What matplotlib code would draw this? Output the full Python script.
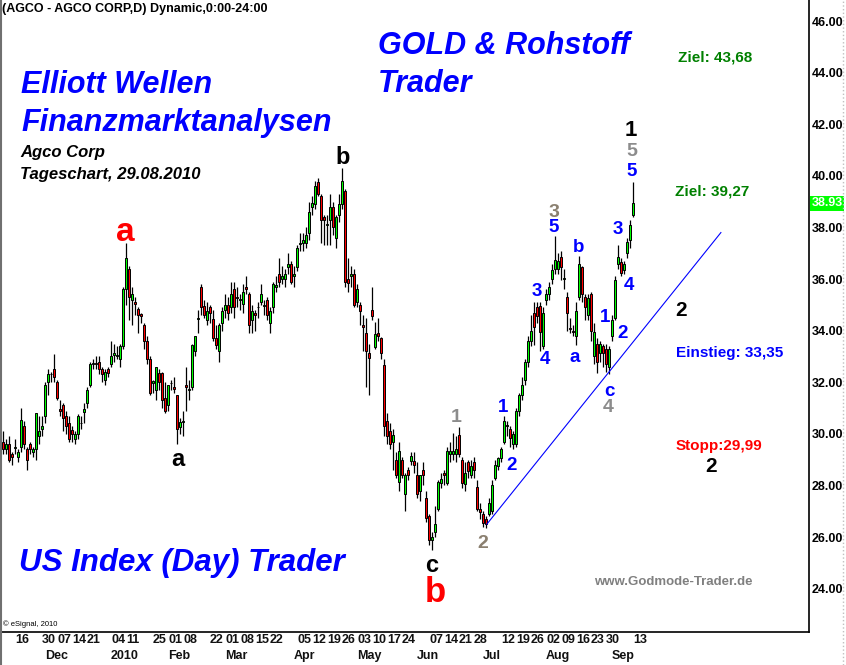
import numpy as np
import pandas as pd
import matplotlib
matplotlib.use('Agg')
import matplotlib.pyplot as plt
import matplotlib.transforms as mtransforms

plt.rcParams['font.family'] = ['Liberation Sans', 'DejaVu Sans']

# AGCO daily bars, 10.11.2009 - 13.09.2010
opens = [29.7, 29.4, 29.6, 29.2, 29.45, 29.1, 29.5, 30.3, 29.4, 29.6,
         29.3, 29.4, 29.9, 30.2, 30.7, 32.0, 32.3, 32.5, 32.0, 30.95,
         31.1, 30.7, 30.4, 30.15, 29.8, 30.0, 30.4, 30.85, 31.2, 31.9,
         32.7, 32.75, 32.8, 32.5, 32.1, 32.5, 32.7, 33.05, 33.0, 32.9,
         33.4, 35.6, 36.4, 35.2, 35.1, 34.85, 34.65, 34.2, 33.6, 32.9,
         31.95, 31.7, 32.35, 32.35, 31.4, 31.1, 31.95, 31.8, 31.5, 30.25,
         30.45, 31.9, 31.7, 31.8, 33.2, 34.45, 35.7, 34.95, 34.4, 34.9,
         34.45, 33.7, 33.2, 34.3, 34.8, 35.0, 34.9, 35.6, 35.3, 35.2,
         35.05, 35.7, 35.4, 34.4, 34.7, 34.9, 35.1, 34.95, 35.2, 34.3,
         34.9, 35.7, 36.2, 36.0, 36.0, 36.45, 36.6, 36.1, 36.45, 37.35,
         37.4, 37.4, 37.8, 38.8, 38.9, 39.75, 39.2, 38.4, 38.1, 38.3,
         38.8, 37.6, 38.5, 38.9, 39.4, 36.0, 36.1, 36.2, 35.1, 35.0,
         34.2, 33.9, 33.15, 34.8, 33.35, 33.9, 33.7, 32.65, 30.5, 30.1,
         29.7, 29.0, 28.15, 29.0, 27.65, 28.6, 28.95, 28.95, 28.4, 27.8,
         28.6, 27.5, 26.8, 25.9, 26.2, 27.1, 28.1, 28.5, 28.1, 29.2,
         29.2, 29.2, 29.95, 29.0, 28.05, 28.9, 28.4, 28.9, 27.95, 27.1,
         26.9, 26.7, 26.9, 27.0, 28.3, 28.75, 29.05, 29.7, 30.35, 30.2,
         29.6, 29.6, 30.9, 31.5, 32.1, 32.8, 33.6, 34.7, 34.9, 34.95,
         33.4, 35.2, 35.4, 36.0, 36.4, 36.4, 36.85, 36.0, 35.3, 34.1,
         34.0, 33.8, 35.3, 36.45, 35.3, 34.6, 35.4, 33.0, 33.5, 33.15,
         33.4, 33.3, 32.6, 33.8, 34.5, 36.6, 36.65, 36.35, 37.0, 37.5,
         38.5]
highs = [30.1, 29.8, 29.9, 29.3, 29.8, 29.4, 31.0, 30.5, 29.5, 29.7,
         29.5, 30.8, 30.7, 30.7, 32.0, 32.5, 32.4, 33.1, 32.1, 31.3,
         31.2, 30.9, 30.7, 30.3, 30.1, 30.75, 30.7, 31.2, 31.8, 32.8,
         32.9, 33.0, 33.0, 32.6, 32.5, 32.6, 33.6, 33.5, 33.4, 33.5,
         35.7, 37.4, 36.5, 35.7, 35.3, 34.9, 34.7, 34.3, 33.8, 33.0,
         32.1, 32.6, 32.5, 32.4, 32.0, 31.9, 32.1, 32.2, 31.5, 30.6,
         30.9, 32.6, 32.1, 33.5, 33.8, 34.8, 35.8, 35.2, 35.1, 35.0,
         34.8, 34.2, 34.3, 34.9, 35.4, 35.3, 35.9, 35.9, 35.7, 35.4,
         35.8, 36.1, 35.5, 35.0, 34.8, 35.1, 35.8, 35.2, 35.3, 34.9,
         35.9, 36.1, 36.8, 36.5, 36.4, 37.0, 36.7, 36.5, 37.3, 37.8,
         37.8, 38.0, 39.0, 39.2, 39.8, 39.9, 39.3, 38.5, 38.5, 39.3,
         39.0, 38.5, 39.3, 40.3, 39.5, 36.8, 36.5, 36.4, 35.8, 35.1,
         34.6, 34.5, 33.5, 35.7, 34.35, 34.5, 33.75, 32.9, 30.8, 30.4,
         30.2, 29.3, 29.7, 29.1, 28.5, 28.7, 29.3, 29.3, 28.9, 28.4,
         28.9, 27.8, 26.9, 26.2, 27.2, 28.2, 28.5, 28.6, 29.5, 29.7,
         30.05, 29.9, 30.25, 29.1, 28.9, 29.0, 29.0, 29.1, 28.2, 27.3,
         27.0, 26.8, 27.5, 28.2, 29.0, 29.1, 29.5, 30.7, 30.5, 30.3,
         30.1, 31.0, 31.6, 32.2, 32.9, 33.8, 34.6, 35.1, 35.1, 35.1,
         34.9, 35.6, 35.9, 36.6, 37.65, 37.0, 37.1, 36.4, 35.5, 34.5,
         34.2, 35.1, 36.9, 36.5, 35.4, 35.4, 35.5, 34.3, 33.7, 33.6,
         33.5, 33.5, 33.4, 34.6, 36.1, 37.3, 36.8, 36.7, 37.6, 38.3,
         39.75]
lows = [29.2, 29.2, 28.9, 28.8, 29.2, 28.9, 29.3, 29.4, 28.6, 29.2,
        29.1, 29.0, 29.6, 29.9, 30.4, 31.5, 32.0, 32.0, 31.3, 30.7,
        30.1, 30.0, 29.7, 29.7, 29.6, 29.8, 30.2, 30.4, 31.0, 31.8,
        32.5, 32.5, 32.3, 32.0, 31.9, 32.2, 32.6, 32.8, 32.9, 32.6,
        33.3, 35.0, 34.4, 34.2, 34.6, 33.9, 34.3, 33.3, 32.7, 31.5,
        31.6, 31.3, 31.7, 31.0, 30.8, 30.9, 31.7, 31.6, 29.6, 30.0,
        29.9, 30.9, 31.3, 31.7, 33.0, 33.9, 34.6, 34.5, 34.2, 34.3,
        33.6, 33.3, 32.8, 34.0, 34.5, 34.4, 34.7, 34.5, 34.9, 34.8,
        34.7, 35.4, 33.9, 33.9, 34.0, 34.5, 35.0, 34.6, 34.4, 33.9,
        34.7, 35.5, 35.7, 35.8, 35.7, 36.2, 35.8, 35.7, 36.3, 37.1,
        37.1, 37.2, 37.5, 38.5, 38.7, 39.2, 37.4, 37.3, 37.3, 37.3,
        37.7, 37.2, 38.2, 38.7, 35.7, 35.5, 35.7, 34.9, 34.9, 34.2,
        33.2, 31.8, 31.5, 34.4, 33.3, 33.6, 32.9, 29.9, 29.6, 29.4,
        28.6, 28.3, 27.8, 28.3, 27.0, 28.2, 28.8, 28.5, 27.5, 27.4,
        28.0, 26.6, 25.7, 25.5, 26.0, 27.0, 27.9, 28.0, 28.0, 28.9,
        29.0, 28.9, 29.1, 27.9, 27.8, 28.3, 28.3, 28.3, 27.0, 26.7,
        26.4, 26.35, 26.8, 26.9, 28.2, 28.6, 28.9, 29.6, 29.9, 29.5,
        29.4, 29.5, 30.7, 31.3, 31.9, 32.6, 33.4, 33.45, 34.3, 33.2,
        33.3, 35.0, 35.2, 35.8, 36.2, 36.2, 35.97, 35.6, 34.0, 33.9,
        33.8, 33.45, 35.2, 35.1, 34.4, 34.4, 33.6, 32.7, 32.35, 32.8,
        32.6, 32.4, 32.3, 33.6, 34.4, 36.4, 36.1, 36.2, 36.8, 37.2,
        38.4]
closes = [29.4, 29.6, 29.0, 29.1, 29.47, 29.3, 30.55, 29.6, 29.0, 29.4,
          29.4, 30.8, 30.1, 30.3, 31.9, 32.3, 32.33, 32.2, 31.4, 30.9,
          30.6, 30.3, 29.8, 30.0, 30.0, 30.7, 30.42, 30.95, 31.7, 32.7,
          32.75, 32.7, 32.5, 32.3, 32.4, 32.35, 33.0, 33.15, 33.05, 33.4,
          35.6, 36.8, 35.3, 35.4, 35.05, 34.6, 34.55, 33.6, 32.9, 31.6,
          32.05, 32.6, 32.0, 31.3, 30.9, 31.9, 31.97, 31.75, 30.2, 30.45,
          30.5, 31.8, 31.72, 33.45, 33.8, 34.5, 34.9, 34.6, 34.75, 34.7,
          33.7, 33.45, 34.2, 34.75, 35.0, 34.7, 35.4, 34.9, 35.25, 35.22,
          35.5, 35.6, 34.2, 34.75, 34.6, 34.92, 35.4, 35.0, 34.6, 34.75,
          35.8, 35.75, 35.9, 36.1, 36.2, 36.6, 35.9, 36.2, 37.2, 37.37,
          37.5, 37.7, 38.6, 38.95, 39.6, 39.3, 38.3, 38.3, 38.12, 38.8,
          38.0, 38.4, 38.9, 39.8, 35.9, 35.85, 36.2, 35.0, 35.6, 34.75,
          34.15, 33.2, 32.95, 34.55, 33.85, 33.8, 33.15, 30.3, 29.9, 29.6,
          29.95, 28.4, 29.35, 28.4, 28.4, 28.4, 29.15, 28.8, 27.65, 28.4,
          28.4, 26.75, 25.9, 26.0, 26.5, 28.15, 28.25, 28.4, 29.35, 29.35,
          29.35, 29.4, 29.2, 28.1, 28.5, 28.55, 28.75, 28.6, 27.1, 26.95,
          26.55, 26.5, 27.3, 28.0, 28.8, 29.05, 29.4, 30.5, 30.3, 29.85,
          30.0, 30.9, 31.5, 31.9, 32.8, 33.6, 34.0, 34.15, 34.55, 33.95,
          34.7, 35.4, 35.7, 36.35, 36.75, 36.7, 36.45, 36.02, 34.7, 34.05,
          33.95, 34.75, 36.6, 35.4, 34.9, 35.25, 34.0, 33.95, 32.8, 33.5,
          33.15, 32.7, 33.3, 34.4, 35.95, 36.85, 36.25, 36.6, 37.45, 38.1,
          38.93]

holidays = ['2009-11-26', '2009-12-25', '2010-01-01', '2010-01-18', '2010-02-15',
            '2010-04-02', '2010-05-31', '2010-07-05', '2010-09-06']
skip_week_labels = ['2009-11-23', '2009-12-28', '2010-03-29']
last_price = 38.93

# trend line (bar number, price)
trend_x = [162.3, 240.3]
trend_y = [26.5, 37.8]

opens = np.array(opens)
highs = np.array(highs)
lows = np.array(lows)
closes = np.array(closes)
n = len(opens)
dates = pd.bdate_range('2009-11-10', periods=n, freq='C', holidays=holidays)
idx = np.arange(1, n + 1)

W, H = 846, 665
fig = plt.figure(figsize=(W / 100, H / 100), dpi=100)
fig.patch.set_facecolor('white')
ax = fig.add_axes([2 / W, 33 / H, 807 / W, 632 / H])

def fx(px):
    return px / W

def fy(py):
    return 1 - py / H

# candles
up = closes >= opens
cols = np.where(up, '#00ff00', '#ff0000')
ax.vlines(idx, lows, highs, color='black', lw=0.9, zorder=2)
bottom = np.minimum(opens, closes)
height = np.maximum(np.abs(closes - opens), 0.03)
ax.bar(idx, height, bottom=bottom, width=0.8, color=cols, edgecolor='black', linewidth=0.7, zorder=3)

ax.plot(trend_x, trend_y, color='blue', lw=0.8, zorder=4)

ax.set_xlim(2 / 3, 809 / 3)
ax.set_ylim(46 - 611 / 25.8, 46 + 21 / 25.8)
ax.yaxis.tick_right()
ax.set_yticks(np.arange(24, 47, 2))
ax.set_yticklabels(['%.2f' % v for v in np.arange(24, 47, 2)], fontsize=9, fontweight='bold')
ax.tick_params(axis='y', length=0, pad=2)
ax.set_xticks([])
for s in ['top', 'left']:
    ax.spines[s].set_visible(False)
ax.spines['right'].set_linewidth(1.2)
ax.spines['bottom'].set_linewidth(1.2)

# price marker
trans_y = mtransforms.blended_transform_factory(ax.transAxes, ax.transData)
ax.text(1.003, last_price, '%.2f' % last_price, transform=trans_y, color='white', fontsize=9,
        fontweight='bold', va='center', ha='left',
        bbox=dict(boxstyle='square,pad=0.12', fc='#00ff00', ec='none'))

# date labels
trans_x = mtransforms.blended_transform_factory(ax.transData, fig.transFigure)
prev_month = None
for i, d in zip(idx, dates):
    if d.weekday() == 0 and d.strftime('%Y-%m-%d') not in skip_week_labels:
        ax.text(i, fy(640), d.strftime('%d'), transform=trans_x, ha='left', va='center',
                fontsize=9, fontweight='bold', color='#111111')
    if prev_month is not None and d.month != prev_month:
        lab = '2010' if d.month == 1 else d.strftime('%b')
        ax.text(i, fy(656), lab, transform=trans_x, ha='left', va='center',
                fontsize=9, fontweight='bold', color='#111111')
    prev_month = d.month

# window border lines
fig.add_artist(plt.Line2D([fx(1), fx(1)], [0, 1], color='#707070', lw=1.5))
fig.add_artist(plt.Line2D([fx(843), fx(843)], [0, 1], color='#c0c0c0', lw=1, ls=':'))

# texts
def t(px, py, s, size, color='black', style='normal', ha='left', weight='bold'):
    fig.text(fx(px), fy(py), s, fontsize=size, color=color, fontstyle=style,
             fontweight=weight, ha=ha, va='center')

t(2, 9, '(AGCO - AGCO CORP,D) Dynamic,0:00-24:00', 9)
t(378, 46, 'GOLD & Rohstoff', 22, 'blue', 'italic')
t(378, 84, 'Trader', 22, 'blue', 'italic')
t(21, 85, 'Elliott Wellen', 22, 'blue', 'italic')
t(21, 123, 'Finanzmarktanalysen', 22, 'blue', 'italic')
t(20, 152, 'Agco Corp', 12, 'black', 'italic')
t(20, 175, 'Tageschart, 29.08.2010', 12, 'black', 'italic')
t(19, 563, 'US Index (Day) Trader', 22.5, 'blue', 'italic')
t(594, 582, 'www.Godmode-Trader.de', 9.5, '#808080')
t(3, 624, '\u00a9 eSignal, 2010', 5.5, 'black', weight='normal')
t(678, 57, 'Ziel: 43,68', 11, '#008000')
t(675, 191, 'Ziel: 39,27', 11, '#008000')
t(676, 353, 'Einstieg: 33,35', 11, 'blue')
t(676, 446, 'Stopp:29,99', 11, 'red')
t(681, 311, '2', 15, 'black', ha='center')
t(711, 467, '2', 15, 'black', ha='center')

# wave counts
t(125, 232, 'a', 24, 'red', ha='center')
t(435, 592, 'b', 25, 'red', ha='center')
t(178, 459, 'a', 17, 'black', ha='center')
t(343, 158, 'b', 17, 'black', ha='center')
t(432, 565, 'c', 17, 'black', ha='center')
t(631, 131, '1', 16, 'black', ha='center')
gray = '#8c8c8c'
brown = '#8b8070'
t(456, 417, '1', 14, gray, ha='center')
t(483, 544, '2', 14, brown, ha='center')
t(554, 212, '3', 14, brown, ha='center')
t(608, 408, '4', 14, gray, ha='center')
t(632, 152, '5', 14, gray, ha='center')
blue_labels = [(503, 408, '1'), (512, 465, '2'), (537, 291, '3'), (545, 360, '4'),
               (554, 228, '5'), (575, 358, 'a'), (579, 248, 'b'), (609, 392, 'c'),
               (605, 318, '1'), (623, 333, '2'), (618, 229, '3'), (629, 285, '4'),
               (632, 171, '5')]
for x, y, s in blue_labels:
    t(x, y, s, 13.5, 'blue', ha='center')

fig.savefig('out.png', dpi=100)
